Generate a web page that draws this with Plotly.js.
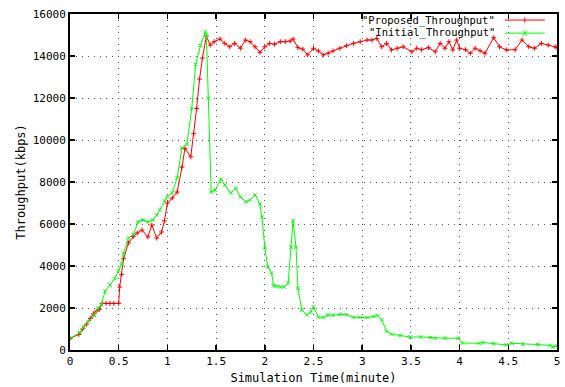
<!DOCTYPE html>
<html>
<head>
<meta charset="utf-8">
<script src="https://cdn.plot.ly/plotly-3.0.1.min.js"></script>
<style>html,body{margin:0;padding:0;background:#fff}#chart{width:565px;height:387px}</style>
</head>
<body>
<div id="chart"></div>
<script>
const proposedTime = [0,0.09,0.13,0.17,0.21,0.24,0.27,0.30,0.33,0.37,0.41,0.45,0.50,0.51,0.53,0.55,0.60,0.65,0.69,0.74,0.80,0.84,0.89,0.94,0.97,1.00,1.05,1.10,1.15,1.18,1.24,1.27,1.30,1.33,1.36,1.40,1.44,1.48,1.54,1.59,1.64,1.69,1.75,1.80,1.85,1.90,1.95,2.00,2.05,2.10,2.16,2.21,2.26,2.29,2.34,2.39,2.44,2.50,2.55,2.60,2.65,2.70,2.77,2.84,2.91,2.98,3.05,3.10,3.15,3.20,3.25,3.30,3.36,3.42,3.51,3.56,3.61,3.68,3.75,3.80,3.85,3.89,3.93,3.97,4.00,4.06,4.11,4.16,4.21,4.26,4.35,4.41,4.48,4.57,4.64,4.71,4.77,4.84,4.91,4.98,5.00];
const proposedKbps = [550,740,1000,1230,1500,1720,1850,1930,2220,2220,2220,2220,2220,3000,3600,4350,5100,5400,5570,5710,5380,5950,5330,5620,6150,7000,7240,7520,8710,9600,9200,10300,11500,12900,13900,14950,14520,14680,14810,14600,14440,14600,14370,14760,14680,14440,14170,14440,14600,14560,14680,14680,14710,14810,14400,14330,14050,14370,14240,14050,14130,14240,14370,14490,14600,14680,14760,14760,14840,14440,14600,14290,14370,14440,14200,14370,14300,14400,14200,14600,14370,14680,14290,14760,14370,14300,14130,14370,14250,14130,14870,14440,14290,14300,14760,14440,14370,14600,14520,14440,14400];

const initialTime = [0,0.10,0.14,0.19,0.25,0.29,0.32,0.36,0.41,0.46,0.50,0.53,0.55,0.60,0.65,0.70,0.75,0.80,0.85,0.89,0.92,0.97,1.00,1.05,1.10,1.15,1.20,1.25,1.29,1.34,1.39,1.40,1.42,1.45,1.49,1.55,1.59,1.65,1.70,1.75,1.81,1.85,1.90,1.95,1.97,2.00,2.03,2.07,2.09,2.12,2.16,2.20,2.24,2.27,2.29,2.32,2.34,2.38,2.43,2.47,2.50,2.55,2.60,2.65,2.70,2.77,2.84,2.91,2.98,3.05,3.12,3.16,3.20,3.25,3.30,3.39,3.49,3.60,3.70,3.75,3.85,3.98,4.03,4.20,4.24,4.35,4.48,4.54,4.65,4.80,4.93,4.96,5.00];
const initialKbps = [550,820,1100,1350,1650,2000,2150,2800,3100,3400,3800,4100,4600,5330,5500,6100,6190,6100,6190,6430,6670,7100,7300,7480,8200,9620,9800,11500,13600,14500,15150,15000,12000,7520,7620,8140,7860,7480,7710,7290,7050,7150,7380,6950,6330,4900,3950,3670,3050,3050,3000,3000,3190,4900,6150,4900,2950,1900,1670,1800,2050,1570,1550,1670,1650,1700,1680,1560,1560,1540,1600,1640,1450,900,760,680,620,620,600,560,560,560,330,320,360,300,250,320,280,260,220,150,200];

const seriesNames = ['"Proposed_Throughput"', '"Initial_Throughput"'];
const xTicks = [0,0.5,1,1.5,2,2.5,3,3.5,4,4.5,5];
const xTickText = ['0','0.5','1','1.5','2','2.5','3','3.5','4','4.5','5'];
const yTicks = [0,2000,4000,6000,8000,10000,12000,14000,16000];
const yTickText = ['0','2000','4000','6000','8000','10000','12000','14000','16000'];

const FONT = 'DejaVu Sans Mono, Liberation Mono, monospace';

const traces = [
  {x: proposedTime, y: proposedKbps, name: seriesNames[0], mode: 'lines+markers',
   line: {color: '#ff0000', width: 1},
   marker: {symbol: 'cross-thin-open', size: 3.5, color: '#ff0000', line: {color: '#ff0000', width: 1}},
   showlegend: false},
  {x: initialTime, y: initialKbps, name: seriesNames[1], mode: 'lines+markers',
   line: {color: '#00ff00', width: 1},
   marker: {symbol: 'x-thin-open', size: 3.5, color: '#00ff00', line: {color: '#00ff00', width: 1}},
   showlegend: false}
];

const axisCommon = {
  showline: true, linecolor: '#000', linewidth: 2, mirror: 'ticks',
  ticks: 'inside', ticklen: 5, tickwidth: 1.5, tickcolor: '#000',
  showgrid: true, gridcolor: '#555', gridwidth: 1, griddash: '1px,5px',
  zeroline: false, tickfont: {family: FONT, size: 11, color: '#000'}
};

const layout = {
  width: 565, height: 387,
  margin: {l: 70, r: 8, t: 14, b: 37},
  paper_bgcolor: '#fff', plot_bgcolor: '#fff',
  showlegend: false,
  xaxis: Object.assign({}, axisCommon, {
    range: [0, 5], tickvals: xTicks, ticktext: xTickText,
    title: {text: 'Simulation Time(minute)', font: {family: FONT, size: 12, color: '#000'}, standoff: 6}
  }),
  yaxis: Object.assign({}, axisCommon, {
    range: [0, 16000], tickvals: yTicks, ticktext: yTickText,
    title: {text: 'Throughput(kbps)', font: {family: FONT, size: 12, color: '#000'}, standoff: 4}
  }),
  annotations: [
    {xref: 'paper', yref: 'paper', x: 0.877, y: 0.982, xanchor: 'right', yanchor: 'middle',
     text: seriesNames[0], showarrow: false, font: {family: FONT, size: 10.5, color: '#000'}},
    {xref: 'paper', yref: 'paper', x: 0.877, y: 0.946, xanchor: 'right', yanchor: 'middle',
     text: seriesNames[1], showarrow: false, font: {family: FONT, size: 10.5, color: '#000'}}
  ],
  shapes: [
    {type: 'line', xref: 'paper', yref: 'paper', x0: 0.893, x1: 0.975, y0: 0.982, y1: 0.982, line: {color: '#ff0000', width: 1}},
    {type: 'line', xref: 'paper', yref: 'paper', x0: 0.934, x1: 0.934, y0: 0.974, y1: 0.990, line: {color: '#ff0000', width: 1}},
    {type: 'line', xref: 'paper', yref: 'paper', x0: 0.893, x1: 0.975, y0: 0.943, y1: 0.943, line: {color: '#00ff00', width: 1}},
    {type: 'line', xref: 'paper', yref: 'paper', x0: 0.930, x1: 0.938, y0: 0.935, y1: 0.951, line: {color: '#00ff00', width: 1}},
    {type: 'line', xref: 'paper', yref: 'paper', x0: 0.930, x1: 0.938, y0: 0.951, y1: 0.935, line: {color: '#00ff00', width: 1}}
  ]
};

Plotly.newPlot('chart', traces, layout, {displayModeBar: false, staticPlot: true});
</script>
</body>
</html>
